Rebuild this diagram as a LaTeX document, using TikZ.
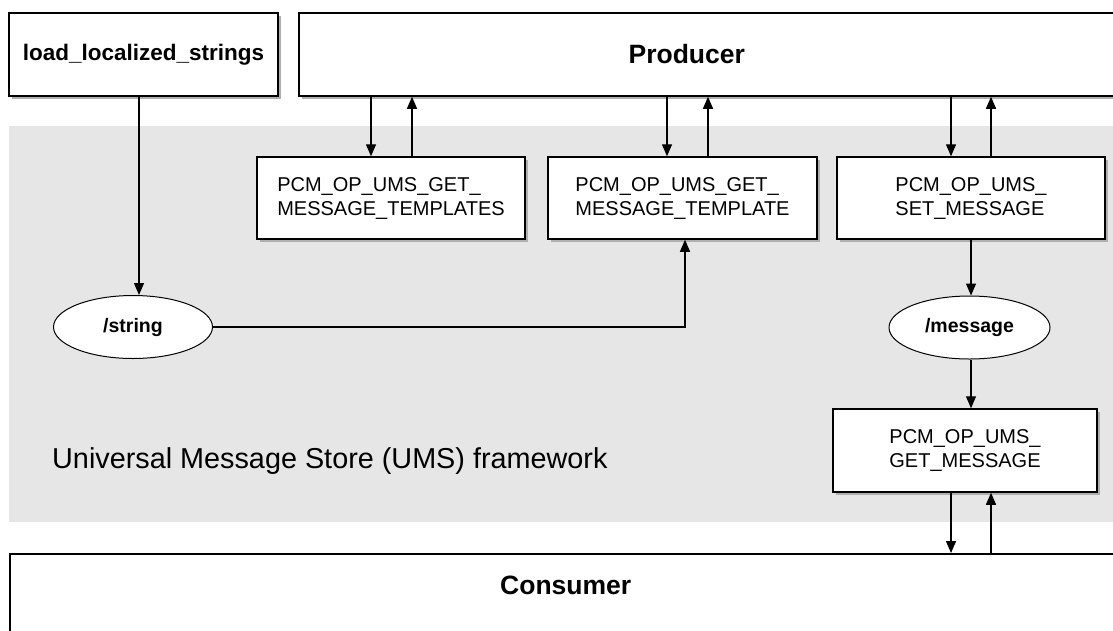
\documentclass[tikz,border=0pt]{standalone}
\usepackage{fontspec}
\setmainfont{Liberation Sans}
\usetikzlibrary{arrows.meta,shadows,shapes.geometric}
\definecolor{umsgray}{RGB}{230,230,230}
\definecolor{shadowgray}{RGB}{175,175,175}
\tikzset{
  box/.style={draw=black, line width=1.5pt, fill=white, rectangle, inner sep=0pt,
    drop shadow={shadow xshift=3pt, shadow yshift=-3pt, fill=shadowgray, opacity=1}},
  opbox/.style={box, minimum width=268pt, minimum height=82pt,
    font=\fontsize{20}{24}\selectfont, align=left},
  bigbox/.style={box, minimum height=83pt},
  bigfont/.style={font=\bfseries\fontsize{26.5}{30}\selectfont},
  store/.style={ellipse, draw=black, line width=1pt, fill=white, inner sep=0pt,
    minimum width=159pt, minimum height=63pt, font=\bfseries\fontsize{19.5}{22}\selectfont},
  arr/.style={line width=1.3pt, -{Triangle[width=10pt,length=12pt]}},
  region/.style={fill=umsgray, draw=none, rectangle, inner sep=0pt},
  regionlabel/.style={font=\fontsize{28.8}{32}\selectfont, anchor=west, inner sep=0pt}
}
\begin{document}
\begin{tikzpicture}[x=1pt,y=-1pt]
\clip (0,0) rectangle (1113,630);
\fill[white] (0,0) rectangle (1113,630);

% framework region
\node[region, minimum width=1110pt, minimum height=396pt, anchor=north west] (ums) at (9,126) {};
\node[regionlabel] (umslabel) at (52,461) {Universal Message Store (UMS) framework};

% top boxes
\node[bigbox, minimum width=269pt, font=\bfseries\fontsize{22.5}{26}\selectfont] (load) at (143.5,54.5) {load\_localized\_strings};
\node[bigbox, minimum width=832pt, anchor=west,
  label={[bigfont, xshift=-28pt]center:Producer}] (prod) at (298,54.5) {};

% opcode boxes
\node[opbox] (tpls) at (391,198) {PCM\_OP\_UMS\_GET\_\\MESSAGE\_TEMPLATES};
\node[opbox, minimum width=269pt] (tpl) at (682.5,198) {PCM\_OP\_UMS\_GET\_\\MESSAGE\_TEMPLATE};
\node[opbox] (setm) at (971,198) {PCM\_OP\_UMS\_\\SET\_MESSAGE};
\node[opbox, minimum width=264pt, minimum height=83pt] (getm) at (965,450.5) {PCM\_OP\_UMS\_\\GET\_MESSAGE};

% storable classes
\node[store] (string) at (133,327) {/string};
\node[store, minimum width=161pt] (message) at (969.5,327.5) {/message};

% consumer
\node[bigbox, minimum width=1112pt, minimum height=107pt, anchor=north west,
  label={[bigfont, yshift=21.5pt]center:Consumer}] (cons) at (9,553) {};

% x positions of connectors
\coordinate (xl) at (139,0);
\coordinate (xa) at (371,0);
\coordinate (xb) at (412,0);
\coordinate (xc) at (667,0);
\coordinate (xd) at (708,0);
\coordinate (xe) at (951,0);
\coordinate (xf) at (991,0);
\coordinate (xs) at (685,0);
\coordinate (xm) at (971,0);
\coordinate (bend) at (685,327);

% connectors
\draw[arr] (load.south -| xl) -- (string.north -| xl);
\draw[arr] (prod.south -| xa) -- (tpls.north -| xa);
\draw[arr] (tpls.north -| xb) -- (prod.south -| xb);
\draw[arr] (prod.south -| xc) -- (tpl.north -| xc);
\draw[arr] (tpl.north -| xd) -- (prod.south -| xd);
\draw[arr] (prod.south -| xe) -- (setm.north -| xe);
\draw[arr] (setm.north -| xf) -- (prod.south -| xf);
\draw[arr] (setm.south -| xm) -- (message.north -| xm);
\draw[arr] (message.south -| xm) -- (getm.north -| xm);
\draw[arr] (getm.south -| xe) -- (cons.north -| xe);
\draw[arr] (cons.north -| xf) -- (getm.south -| xf);
\draw[arr] (string.east) -- (bend) -- (tpl.south -| xs);
\end{tikzpicture}
\end{document}
